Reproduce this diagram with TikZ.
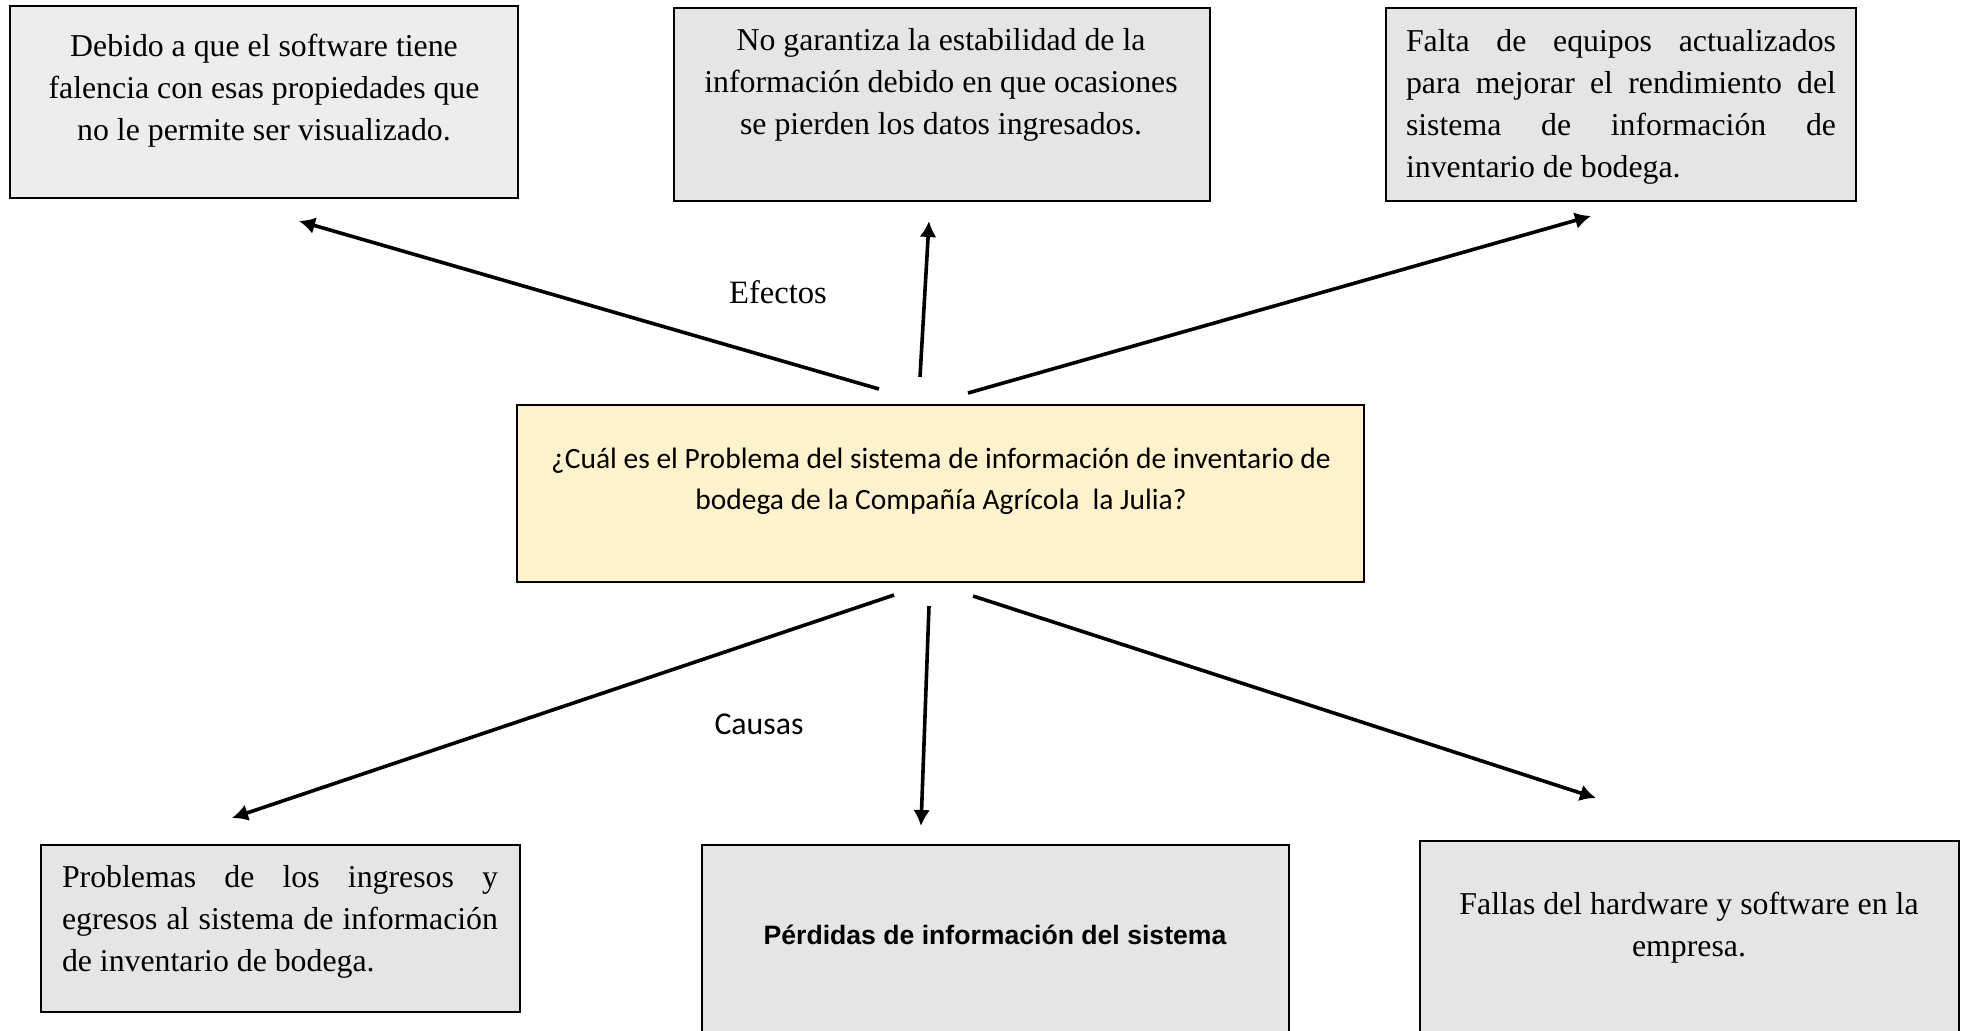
\documentclass[tikz,border=0pt]{standalone}
\usepackage{fontspec}
\setmainfont{Liberation Serif}
\newfontfamily\calibfont{Carlito}
\newfontfamily\arialfont{Liberation Sans}
\usetikzlibrary{arrows.meta}
\definecolor{boxa}{HTML}{EDEDED}
\definecolor{boxb}{HTML}{E5E5E5}
\definecolor{centrefill}{HTML}{FFF2CC}
\begin{document}
\begin{tikzpicture}[x=0.5pt,y=-0.5pt,
  box/.style={draw=black, line width=1.4pt, rectangle, inner sep=0pt},
  txt/.style={inner sep=0pt, font=\fontsize{15.9}{21}\selectfont},
  arr/.style={-{Latex[length=8pt,width=8.5pt]}, line width=1.8pt}]
\clip (0,0) rectangle (1968,1030);
\fill[white] (0,0) rectangle (1968,1030);
% boxes
\node[box, fill=boxa, minimum width=254pt, minimum height=96pt] (e1) at (264,102) {};
\node[box, fill=boxb, minimum width=268pt, minimum height=96.5pt] (e2) at (942,104.5) {};
\node[box, fill=boxb, minimum width=235pt, minimum height=96.5pt] (e3) at (1621,104.5) {};
\node[box, fill=centrefill, minimum width=423.5pt, minimum height=88.5pt] (p) at (940.5,493.5) {};
\node[box, fill=boxb, minimum width=239.5pt, minimum height=83.5pt] (c1) at (280.5,928.5) {};
\node[box, fill=boxb, minimum width=293.5pt, minimum height=100pt] (c2) at (995.5,945) {};
\node[box, fill=boxb, minimum width=269.5pt, minimum height=102pt] (c3) at (1689.5,943) {};
% texts
\node[txt, align=center] (t1) at (264,91) {Debido a que el software tiene\\falencia con esas propiedades que\\no le permite ser visualizado.};
\node[txt, align=center] (t2) at (941,85) {No garantiza la estabilidad de la\\información debido en que ocasiones\\se pierden los datos ingresados.};
\node[txt, align=left] (t3) at (1621,106.5) {\makebox[215pt][s]{Falta de equipos actualizados}\\\makebox[215pt][s]{para mejorar el rendimiento del}\\\makebox[215pt][s]{sistema de información de}\\inventario de bodega.};
\node[txt, align=center, font=\calibfont\fontsize{14.75}{20.7}\selectfont] (tp) at (941,481.5) {¿Cuál es el Problema del sistema de información de inventario de\\bodega de la Compañía Agrícola \ la Julia?};
\node[txt, align=left] (t4) at (280,921.5) {\makebox[218pt][s]{Problemas de los ingresos y}\\\makebox[218pt][s]{egresos al sistema de información}\\de inventario de bodega.};
\node[txt, font=\arialfont\bfseries\fontsize{13.3}{16}\selectfont] (t5) at (995,935) {Pérdidas de información del sistema};
\node[txt, align=center] (t6) at (1689,927.5) {Fallas del hardware y software en la\\empresa.};
\node[txt, font=\fontsize{16.3}{18}\selectfont] (lef) at (778,292) {Efectos};
\node[txt, font=\calibfont\fontsize{15.9}{18}\selectfont] (lca) at (759,724) {Causas};
% arrows
\coordinate (a1s) at (879,389); \coordinate (a1e) at (299,221);
\coordinate (a2s) at (920,377); \coordinate (a2e) at (929,221);
\coordinate (a3s) at (968,393); \coordinate (a3e) at (1591,216);
\coordinate (a4s) at (894,595); \coordinate (a4e) at (232,818);
\coordinate (a5s) at (929,606); \coordinate (a5e) at (921,826);
\coordinate (a6s) at (973,596); \coordinate (a6e) at (1596,798);
\draw[arr] (a1s) -- (a1e);
\draw[arr] (a2s) -- (a2e);
\draw[arr] (a3s) -- (a3e);
\draw[arr] (a4s) -- (a4e);
\draw[arr] (a5s) -- (a5e);
\draw[arr] (a6s) -- (a6e);
\end{tikzpicture}
\end{document}
